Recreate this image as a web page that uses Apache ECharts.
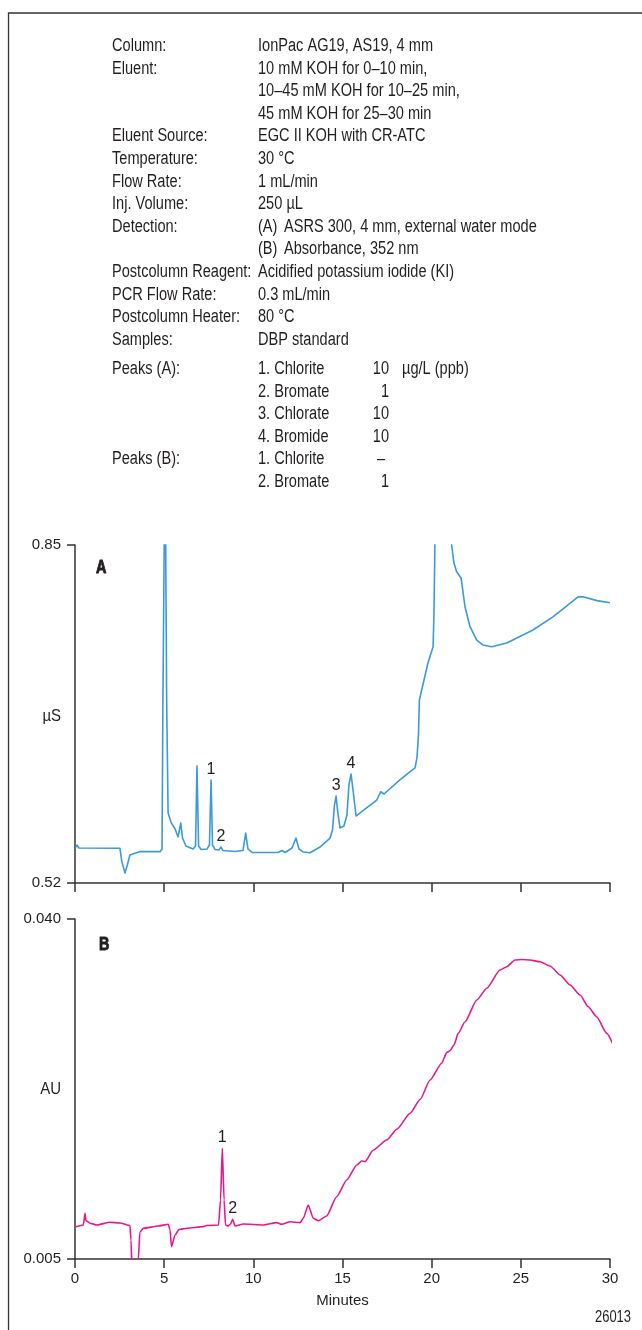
<!DOCTYPE html>
<html>
<head>
<meta charset="utf-8">
<script src="https://cdn.jsdelivr.net/npm/echarts@6/dist/echarts.min.js"></script>
<style>
  html, body { margin: 0; padding: 0; background: #fff; }
  #chart { width: 642px; height: 1330px; }
</style>
</head>
<body>
<div id="chart"></div>
<script>
// Run conditions (left column labels, right column values)
const conditionLabels = ['Column:', 'Eluent:', '', '', 'Eluent Source:', 'Temperature:', 'Flow Rate:',
  'Inj. Volume:', 'Detection:', '', 'Postcolumn Reagent:', 'PCR Flow Rate:', 'Postcolumn Heater:', 'Samples:'];
const conditionValues = ['IonPac AG19, AS19, 4 mm', '10 mM KOH for 0\u201310 min,', '10\u201345 mM KOH for 10\u201325 min,',
  '45 mM KOH for 25\u201330 min', 'EGC II KOH with CR-ATC', '30 \u00B0C', '1 mL/min', '250 \u00B5L',
  '(A)', '(B)', 'Acidified potassium iodide (KI)', '0.3 mL/min', '80 \u00B0C', 'DBP standard'];
const detectionText = ['ASRS 300, 4 mm, external water mode', 'Absorbance, 352 nm'];

// Peak tables
const peakGroupLabels = ['Peaks (A):', '', '', '', 'Peaks (B):', ''];
const peakNames = ['1. Chlorite', '2. Bromate', '3. Chlorate', '4. Bromide', '1. Chlorite', '2. Bromate'];
const peakConc = ['10', '1', '10', '10', '\u2013', '1'];
const concUnit = '\u00B5g/L (ppb)';

// Trace A: suppressed conductivity (µS) vs time (min)
const timeA = [0.03,0.11,0.22,2.52,2.62,2.80,2.92,3.08,3.64,4.77,4.88,4.93,5.05,5.14,5.22,5.38,5.61,5.78,5.93,6.03,
  6.22,6.62,6.76,6.84,6.93,7.07,7.40,7.54,7.63,7.71,7.85,8.07,8.19,8.30,8.97,9.42,9.57,9.70,9.93,11.38,
  11.61,11.78,12.17,12.39,12.56,12.79,13.18,13.74,14.30,14.44,14.55,14.64,14.72,14.86,15.08,15.25,15.36,15.48,15.59,15.76,
  16.26,16.92,17.14,17.33,18.22,18.79,19.07,19.18,19.26,19.31,19.57,19.79,20.08,20.13,20.18,20.6,21.0,21.12,21.25,21.40,
  21.65,21.87,22.15,22.53,22.88,23.37,24.21,25.68,26.80,28.21,28.49,29.27,30.0];
const condA = [0.5542,0.5571,0.5542,0.5539,0.5415,0.5298,0.5366,0.5473,0.5508,0.5506,0.5532,0.6987,0.95,0.6987,0.5883,0.5795,0.5727,0.5649,0.5786,0.5639,
  0.5561,0.5532,0.5561,0.6342,0.5561,0.5527,0.5532,0.5571,0.6206,0.5571,0.5527,0.5522,0.5551,0.5517,0.5508,0.5517,0.5688,0.5532,0.5498,0.5498,
  0.5517,0.5498,0.5542,0.5639,0.5532,0.5503,0.5496,0.5551,0.5639,0.5717,0.5961,0.6049,0.5913,0.5737,0.5756,0.5864,0.6157,0.6264,0.6108,0.5854,
  0.5922,0.6010,0.6091,0.6069,0.6206,0.6287,0.6323,0.6430,0.6645,0.6987,0.7182,0.7348,0.7507,0.7836,0.85,1.05,1.0,0.85,0.8324,0.8239,
  0.8177,0.7897,0.7702,0.7572,0.7523,0.7507,0.7543,0.7670,0.7799,0.7994,0.7994,0.7957,0.7936];
const peakLabelsA = ['1', '2', '3', '4'];
const peakTimesA = [7.63, 8.19, 14.64, 15.48];

// Trace B: absorbance (AU) vs time (min)
const timeB = [0.06,0.47,0.56,0.62,0.84,1.23,1.96,2.52,3.08,3.14,3.20,3.42,3.55,3.64,3.83,4.67,5.23,5.33,5.41,5.61,
  5.83,6.28,7.18,7.40,8.05,8.16,8.26,8.36,8.44,8.58,8.72,8.84,8.97,9.44,10.56,11.31,11.59,12.06,12.62,12.80,
  13.08,13.36,13.64,14.11,14.67,15.24,15.80,16.08,16.26,16.73,17.48,18.06,18.79,19.35,19.91,20.56,20.84,21.03,21.25,21.49,
  21.87,22.53,23.09,23.83,24.21,24.67,25.07,25.51,26.08,26.64,27.20,27.76,28.32,28.78,29.25,29.82,30.19];
const absB = [0.00833,0.00850,0.00970,0.00894,0.00868,0.00850,0.00878,0.00871,0.00845,0.00696,0.00387,0.0035,0.005,0.00778,0.00816,0.00840,0.00857,0.00799,0.00627,0.00747,
  0.00804,0.00816,0.00833,0.00845,0.00850,0.01107,0.01640,0.01107,0.00850,0.00840,0.00860,0.00909,0.00840,0.00860,0.00850,0.00874,0.00857,0.00884,0.00874,0.00919,
  0.01056,0.00919,0.00894,0.00943,0.01141,0.01313,0.01468,0.01509,0.01502,0.01622,0.01725,0.01838,0.02000,0.02142,0.02343,0.02515,0.02624,0.02644,0.02703,0.02823,
  0.02943,0.03166,0.03287,0.03475,0.03509,0.03578,0.03583,0.03578,0.03560,0.03516,0.03424,0.03321,0.03218,0.03097,0.02994,0.02823,0.02703];
const peakLabelsB = ['1', '2'];
const peakTimesB = [8.26, 8.84];

// Axis ranges and tick labels
const yTicksA = [0.52, 0.85];
const yTicksB = [0.005, 0.040];
const xTicks = [0, 5, 10, 15, 20, 25, 30];

const FONT = "'Liberation Sans', Arial, Helvetica, sans-serif";
const INK = '#231f20';
const AXIS = '#333';
const BLUE = '#3b9ad8';
const MAGENTA = '#e8188c';
const NARROW = 0.81;   // horizontal squeeze giving a condensed face

const zip = (xs, ys) => xs.map((x, i) => [x, ys[i]]);
const peakMarks = (times, values, labels, at) => labels.map((lab, i) => {
  const k = times.indexOf(at[i]);
  return { coord: [at[i], values[k]], value: lab };
});

// Text helper: condensed text placed at (x, y)
const graphics = [];
const txt = (text, x, y, extra, scale) => ({
  type: 'text', silent: true, x, y, scaleX: scale || NARROW,
  style: Object.assign({ text, x: 0, y: 0, fontFamily: FONT, fontSize: 18, fontWeight: 'normal',
    fill: INK, textVerticalAlign: 'middle' }, extra || {})
});

// Conditions text block
const ROW0 = 46, ROW = 22.6, XL = 112, XV = 258;
conditionLabels.forEach((t, i) => { if (t) graphics.push(txt(t, XL, ROW0 + i * ROW)); });
conditionValues.forEach((t, i) => graphics.push(txt(t, XV, ROW0 + i * ROW)));
detectionText.forEach((t, i) => graphics.push(txt(t, 284, ROW0 + (8 + i) * ROW)));
const PEAK0 = 369;
peakGroupLabels.forEach((t, i) => { if (t) graphics.push(txt(t, XL, PEAK0 + i * ROW)); });
peakNames.forEach((t, i) => graphics.push(txt(t, XV, PEAK0 + i * ROW)));
peakConc.forEach((t, i) => graphics.push(txt(t, t === '\u2013' ? 381 : 389, PEAK0 + i * ROW,
  { textAlign: t === '\u2013' ? 'center' : 'right' })));
graphics.push(txt(concUnit, 402, PEAK0));

// Panel letters (heavy), units and figure number
const heavy = { fontWeight: 'bold', fontSize: 18, stroke: INK, lineWidth: 0.9 };
graphics.push(txt('A', 96, 568, heavy, 0.8));
graphics.push(txt('B', 99, 945, heavy, 0.8));
graphics.push(txt('\u00B5S', 61, 716, { textAlign: 'right', fontSize: 17 }, 0.88));
graphics.push(txt('AU', 61, 1089, { textAlign: 'right', fontSize: 17 }, 0.88));
graphics.push(txt('26013', 631, 1318, { textAlign: 'right', fontSize: 16 }));
// Frame
graphics.push({ type: 'rect', silent: true, shape: { x: 8.5, y: 13, width: 700, height: 1400 },
  style: { fill: 'none', stroke: AXIS, lineWidth: 1.3 } });

const axisLine = { show: true, onZero: false, lineStyle: { color: AXIS, width: 1.5 } };
const labelStyle = { color: INK, fontFamily: FONT, fontSize: 15 };
const peakLabel = { show: true, position: 'top', distance: 2, formatter: p => p.value, color: INK, fontFamily: FONT, fontSize: 16 };

const option = {
  animation: false,
  backgroundColor: '#fff',
  grid: [
    { left: 75, top: 545, width: 535, height: 338 },
    { left: 75, top: 919, width: 535, height: 340 }
  ],
  xAxis: [0, 1].map(g => ({
    gridIndex: g, type: 'value', min: xTicks[0], max: xTicks[xTicks.length - 1], interval: 5,
    axisLine, splitLine: { show: false },
    axisTick: { show: true, length: 9, lineStyle: { color: AXIS, width: 1.5 } },
    axisLabel: g === 1 ? Object.assign({ show: true, margin: 12 }, labelStyle) : { show: false },
    name: g === 1 ? 'Minutes' : '', nameLocation: 'middle', nameGap: 34,
    nameTextStyle: labelStyle
  })),
  yAxis: [
    { gridIndex: 0, type: 'value', min: yTicksA[0], max: yTicksA[1], axisLine, splitLine: { show: false },
      axisTick: { show: true, length: 8, customValues: yTicksA, lineStyle: { color: AXIS, width: 1.5 } },
      axisLabel: Object.assign({ margin: 14, customValues: yTicksA, formatter: v => v.toFixed(2) }, labelStyle) },
    { gridIndex: 1, type: 'value', min: yTicksB[0], max: yTicksB[1], axisLine, splitLine: { show: false },
      axisTick: { show: true, length: 8, customValues: yTicksB, lineStyle: { color: AXIS, width: 1.5 } },
      axisLabel: Object.assign({ margin: 14, customValues: yTicksB, formatter: v => v.toFixed(3) }, labelStyle) }
  ],
  series: [
    { type: 'line', xAxisIndex: 0, yAxisIndex: 0, data: zip(timeA, condA), showSymbol: false,
      smooth: false, clip: true,
      lineStyle: { color: BLUE, width: 1.6, join: 'round' },
      markPoint: { symbol: 'circle', symbolSize: 1, itemStyle: { color: 'rgba(0,0,0,0)' },
        label: peakLabel, data: peakMarks(timeA, condA, peakLabelsA, peakTimesA) } },
    { type: 'line', xAxisIndex: 1, yAxisIndex: 1, data: zip(timeB, absB), showSymbol: false,
      smooth: 0.2, smoothMonotone: 'x', clip: true,
      lineStyle: { color: MAGENTA, width: 1.6, join: 'round' },
      markPoint: { symbol: 'circle', symbolSize: 1, itemStyle: { color: 'rgba(0,0,0,0)' },
        label: peakLabel, data: peakMarks(timeB, absB, peakLabelsB, peakTimesB) } }
  ],
  graphic: graphics
};

const chart = echarts.init(document.getElementById('chart'), null, { renderer: 'canvas' });
chart.setOption(option);
</script>
</body>
</html>
